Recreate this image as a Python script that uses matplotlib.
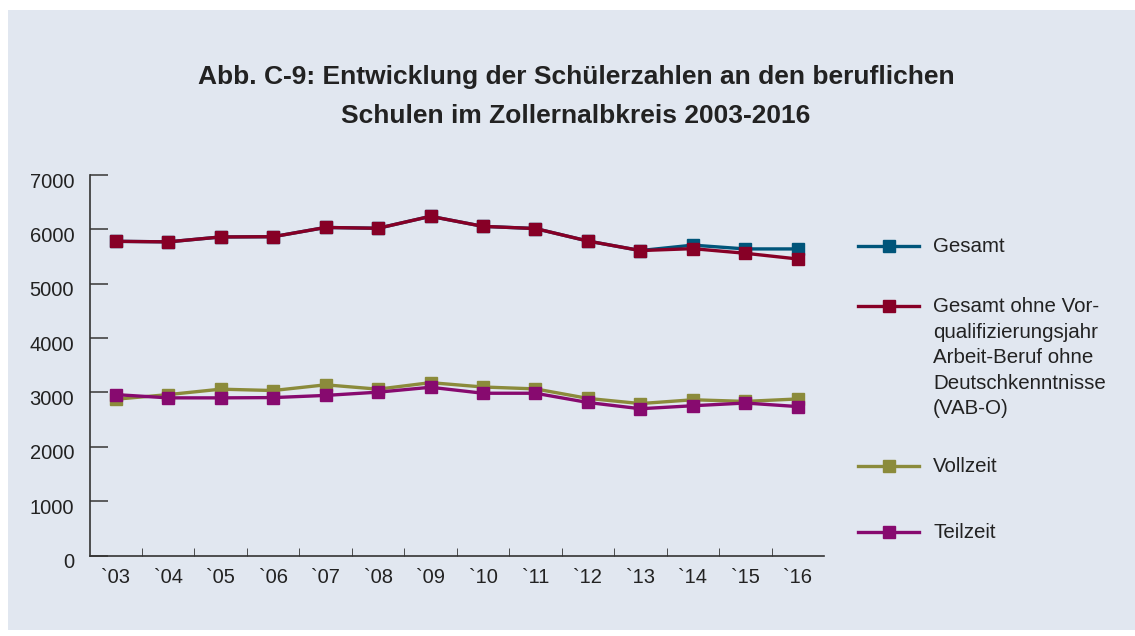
import matplotlib.pyplot as plt
import matplotlib.transforms as mtransforms
from matplotlib.patches import Rectangle
from matplotlib.lines import Line2D

plt.rcParams['font.family'] = ['Liberation Sans', 'DejaVu Sans']

years = ["`03", "`04", "`05", "`06", "`07", "`08", "`09",
         "`10", "`11", "`12", "`13", "`14", "`15", "`16"]
gesamt = [5780, 5770, 5860, 5865, 6035, 6020, 6240,
          6055, 6015, 5785, 5610, 5710, 5640, 5640]
gesamt_ohne = [5780, 5770, 5860, 5865, 6035, 6020, 6240,
               6055, 6015, 5785, 5610, 5645, 5560, 5455]
vollzeit = [2875, 2960, 3060, 3035, 3140, 3060, 3180,
            3100, 3065, 2890, 2795, 2865, 2835, 2880]
teilzeit = [2960, 2900, 2900, 2905, 2945, 3005, 3095,
            2985, 2985, 2815, 2700, 2755, 2805, 2740]

labels = ["Gesamt",
          "Gesamt ohne Vor-\nqualifizierungsjahr\nArbeit-Beruf ohne\nDeutschkenntnisse\n(VAB-O)",
          "Vollzeit", "Teilzeit"]
colors = ["#00557a", "#870026", "#8b8b3b", "#870a6f"]
series = [gesamt, gesamt_ohne, vollzeit, teilzeit]

bg = "#e1e7f0"
W, H = 1135, 636
fig = plt.figure(figsize=(W / 100, H / 100), dpi=100)
fig.patch.set_facecolor("white")
fig.add_artist(Rectangle((8 / W, 6 / H), (W - 8) / W, (H - 16) / H,
                         transform=fig.transFigure, facecolor=bg,
                         edgecolor="none", zorder=-10))

ax = fig.add_axes([89.5 / W, 1 - 555.5 / H, (824 - 89.5) / W, (555.5 - 175) / H])
ax.set_facecolor("none")

x = list(range(len(years)))
for s, c in zip(series, colors):
    ax.plot(x, s, color=c, lw=2.4, marker="s", ms=8, mec=c, mfc=c)

ax.set_xlim(-0.5, len(years) - 0.5)
ax.set_ylim(0, 7000)
ax.set_yticks(range(0, 7001, 1000))
ax.set_xticks(x)
ax.set_xticklabels(years)
ax.set_xticks([i + 0.5 for i in x[:-1]], minor=True)
ax.tick_params(axis="x", which="major", length=0, pad=9, labelsize=14.5, colors="#222222")
ax.tick_params(axis="x", which="minor", length=6, direction="in", color="#333333")
ax.tick_params(axis="y", length=13, direction="in", width=1.2, color="#444444",
               labelsize=14.5, pad=11, labelcolor="#222222")
# y labels sit a little below their ticks in the original
shift = mtransforms.ScaledTranslation(0, -5 / 100, fig.dpi_scale_trans)
for lbl in ax.get_yticklabels():
    lbl.set_transform(lbl.get_transform() + shift)
for side in ["top", "right"]:
    ax.spines[side].set_visible(False)
for side in ["left", "bottom"]:
    ax.spines[side].set_color("#333333")
    ax.spines[side].set_linewidth(1.2)

fig.text(576 / W, 1 - 96.5 / H,
         "Abb. C-9: Entwicklung der Schülerzahlen an den beruflichen\nSchulen im Zollernalbkreis 2003-2016",
         ha="center", va="center", fontsize=19, fontweight="bold",
         color="#222222", linespacing=1.78)

# legend
leg_y = [246, 306, 466, 532]
for lab, c, yy in zip(labels, colors, leg_y):
    fy = 1 - yy / H
    fig.add_artist(Line2D([858 / W, 919 / W], [fy, fy], color=c, lw=2.4,
                          transform=fig.transFigure))
    fig.add_artist(Line2D([888.5 / W], [fy], color=c, marker="s", ms=8,
                          transform=fig.transFigure))
    fig.text(933 / W, fy + 9 / H, lab, ha="left", va="top", fontsize=14.8,
             color="#222222", linespacing=1.44)

fig.savefig("out.png", dpi=100, facecolor=fig.get_facecolor())
